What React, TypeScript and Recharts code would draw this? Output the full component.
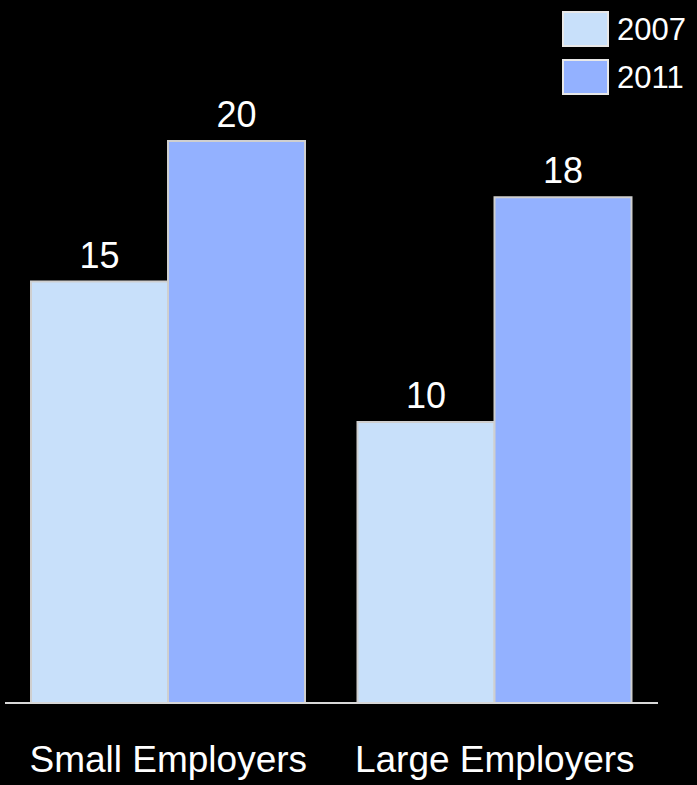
import React from "react";
import { BarChart, Bar, XAxis, YAxis, LabelList, Legend } from "recharts";

const categories = ["Small Employers", "Large Employers"];
const values2007 = [15, 10];
const values2011 = [20, 18];
const seriesNames = ["2007", "2011"];
const seriesColors = ["#C8E0FA", "#93B1FF"];

const data = categories.map((c, i) => ({
  name: c,
  y2007: values2007[i],
  y2011: values2011[i],
}));

const FONT = '"Liberation Sans", Arial, sans-serif';

const LegendContent = () => (
  <div style={{ fontFamily: FONT, height: 83 }}>
    {seriesNames.map((n, i) => (
      <div
        key={n}
        style={{ display: "flex", alignItems: "center", height: 35, marginBottom: i === 0 ? 13 : 0 }}
      >
        <div
          style={{
            width: 43,
            height: 32,
            background: seriesColors[i],
            border: "2px solid #e8e8e8",
            marginRight: 8,
          }}
        />
        <span style={{ color: "#fff", fontSize: 31, lineHeight: "35px", position: "relative", top: 1 }}>{n}</span>
      </div>
    ))}
  </div>
);

export default function App() {
  return (
    <div style={{ position: "absolute", left: 0, top: 0, width: 697, height: 785, background: "#000" }}>
      <BarChart
        width={697}
        height={785}
        data={data}
        margin={{ top: 58, right: 39, bottom: 22, left: 5 }}
        barCategoryGap={26}
        barGap={0}
      >
        <XAxis
          dataKey="name"
          height={60}
          tickLine={false}
          tickSize={0}
          tickMargin={43}
          axisLine={{ stroke: "#d8d8d8", strokeWidth: 2 }}
          tick={{ fill: "#fff", fontSize: 37, fontFamily: FONT }}
          interval={0}
        />
        <YAxis hide domain={[0, 20]} />
        <Legend
          verticalAlign="top"
          content={<LegendContent />}
          wrapperStyle={{ position: "absolute", top: 11, left: 562, width: "auto", right: "auto", bottom: "auto" }}
        />
        <Bar dataKey="y2007" name="2007" fill={seriesColors[0]} stroke="#cfcfcf" strokeWidth={2} isAnimationActive={false}>
          <LabelList dataKey="y2007" position="top" offset={14} fill="#fff" fontSize={36} fontFamily={FONT} />
        </Bar>
        <Bar dataKey="y2011" name="2011" fill={seriesColors[1]} stroke="#cfcfcf" strokeWidth={2} isAnimationActive={false}>
          <LabelList dataKey="y2011" position="top" offset={14} fill="#fff" fontSize={36} fontFamily={FONT} />
        </Bar>
      </BarChart>
    </div>
  );
}
